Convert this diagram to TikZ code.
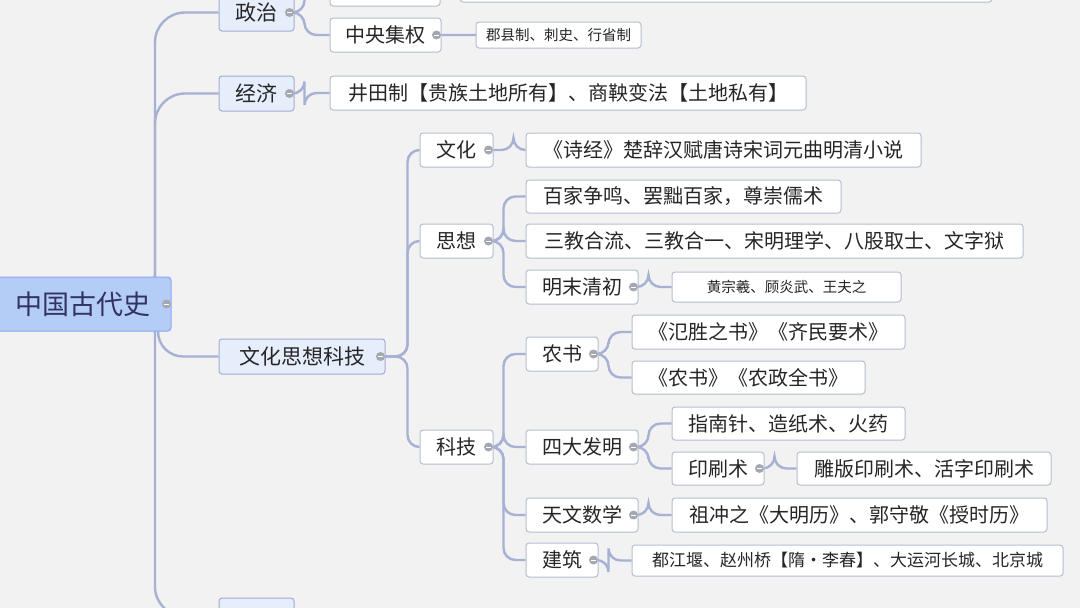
\documentclass[tikz,border=0pt]{standalone}
\usepackage{fontspec}
\setmainfont{Noto Sans CJK SC}
\usetikzlibrary{calc,backgrounds}
\definecolor{bgc}{HTML}{F2F2F2}
\definecolor{conc}{HTML}{A6B1D3}
\definecolor{rootf}{HTML}{B4CDF6}
\definecolor{l1f}{HTML}{E6EDFB}
\definecolor{bord}{HTML}{B5BDD0}
\definecolor{colc}{HTML}{A4A8B0}
\tikzset{
 box/.style={draw=bord,fill=white,rounded corners=3pt,line width=1pt,inner sep=0pt,font=\fontsize{20}{20}\selectfont,text=black!85},
 lone/.style={box,fill=l1f,draw=bord!90!blue,font=\fontsize{21}{21}\selectfont},
 small/.style={box,font=\fontsize{14.5}{14.5}\selectfont},
 rootbox/.style={box,fill=rootf,draw=rootf!80!blue,font=\fontsize{27}{27}\selectfont,text=black!70!blue!60!gray},
 conn/.style={draw=conc,line width=2.4pt,rounded corners=12pt},
}
\newcommand\bx[7][box]{\node[#1,minimum width=#6-#4,minimum height=#7-#5] (#2) at ({(#4+#6)/2},{(#5+#7)/2}) {#3};}
\newcommand\col[1]{\fill[colc] ($(#1.east)+(-5,0)$) circle (4.5);\draw[white,line width=1pt] ($(#1.east)+(-7.5,0)$) -- ($(#1.east)+(-2.5,0)$);}
\newcommand\ed[3][10]{\draw[conn] (#2.east) -- ++(#1,0) |- (#3.west);}
\begin{document}
\begin{tikzpicture}[x=1pt,y=-1pt]
\useasboundingbox (0,0) rectangle (1080,608);
% root
\bx[rootbox]{root}{中国古代史}{-5}{277}{171}{331}
% level 1
\bx[lone]{zz}{政治}{219}{-6}{294}{31}
\bx[lone]{jj}{经济}{219}{76}{294}{111}
\bx[lone]{wh}{文化思想科技}{219}{339}{385}{374}
\bx[lone]{bt}{}{219}{598}{294}{635}
% politics
\bx{top1}{}{330}{-30}{440}{6}
\bx{top2}{}{460}{-30}{992}{2}
\bx{zyjq}{中央集权}{330}{18}{441}{52}
\bx[small]{jx}{郡县制、刺史、行省制}{476}{22}{641}{48}
\bx{jtz}{井田制【贵族土地所有】、商鞅变法【土地私有】}{330}{76}{806}{110}
% culture
\bx{whx}{文化}{420}{133}{493}{167}
\bx{sj}{《诗经》楚辞汉赋唐诗宋词元曲明清小说}{526}{133}{921}{167}
\bx{sx}{思想}{420}{224}{493}{258}
\bx{bj}{百家争鸣、罢黜百家，尊崇儒术}{526}{180}{841}{213}
\bx{sjhl}{三教合流、三教合一、宋明理学、八股取士、文字狱}{526}{224}{1023}{258}
\bx{mm}{明末清初}{526}{270}{638}{304}
\bx[small]{hz}{黄宗羲、顾炎武、王夫之}{672}{272}{901}{302}
\bx{kj}{科技}{420}{430}{493}{464}
\bx{ns}{农书}{526}{337}{598}{371}
\bx{fs}{《氾胜之书》《齐民要术》}{632}{315}{905}{349}
\bx{nz}{《农书》《农政全书》}{632}{361}{865}{394}
\bx{sd}{四大发明}{526}{430}{638}{464}
\bx{zn}{指南针、造纸术、火药}{672}{407}{905}{440}
\bx{ys}{印刷术}{672}{452}{764}{485}
\bx{db}{雕版印刷术、活字印刷术}{797}{452}{1051}{485}
\bx{tw}{天文数学}{526}{498}{638}{532}
\bx{zc}{祖冲之《大明历》、郭守敬《授时历》}{672}{498}{1047}{532}
\bx{jz}{建筑}{526}{543}{598}{577}
\bx[small,font=\fontsize{17}{17}\selectfont]{djy}{都江堰、赵州桥【隋·李春】、大运河长城、北京城}{632}{545}{1063}{576}
\begin{scope}[on background layer]
\fill[bgc] (0,0) rectangle (1080,608);
\coordinate (rs) at (150,304);
\draw[conn,rounded corners=30pt] (rs) -- (155,304) |- (zz.west);
\draw[conn,rounded corners=30pt] (rs) -- (155,304) |- (jj.west);
\draw[conn,rounded corners=25pt] (rs) -- (158,304) |- (wh.west);
\draw[conn,rounded corners=30pt] (rs) -- (155,304) |- (bt.west);
\ed{zz}{top1}\ed{zz}{zyjq}
\ed[70]{zyjq}{jx}
\ed{jj}{jtz}
\ed[22]{wh}{whx}\ed[22]{wh}{sx}\ed[22]{wh}{kj}
\ed[20]{whx}{sj}
\ed{sx}{bj}\ed{sx}{sjhl}\ed{sx}{mm}
\ed{mm}{hz}
\ed{kj}{ns}\ed{kj}{sd}\ed{kj}{tw}\ed{kj}{jz}
\ed{ns}{fs}\ed{ns}{nz}
\ed{sd}{zn}\ed{sd}{ys}
\ed{ys}{db}
\ed{tw}{zc}
\ed{jz}{djy}
\end{scope}
\foreach \n in {root,zz,jj,wh,zyjq,whx,sx,mm,kj,ns,sd,ys,tw,jz} {\col{\n}}
\end{tikzpicture}
\end{document}
